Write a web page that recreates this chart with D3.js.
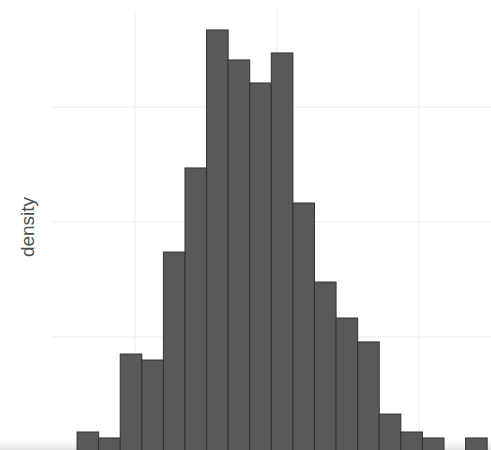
<!DOCTYPE html>
<html>
<head>
<meta charset="utf-8">
<script src="https://cdn.jsdelivr.net/npm/d3@7"></script>
<style>
html,body{margin:0;padding:0;background:#fff;}
svg{display:block;}
</style>
</head>
<body>
<svg id="chart" width="491" height="450"></svg>
<script>
// Histogram data (density per bin)
const binStart = -1.408;
const binWidth = 0.152;
const densities = [0.0174, 0.0122, 0.0852, 0.0800, 0.1739, 0.2470, 0.3670, 0.3409, 0.3209, 0.3470,
                   0.2165, 0.1478, 0.1165, 0.0957, 0.0330, 0.0174, 0.0122, 0, 0.0122];
const xGrid = [-1, 0, 1];
const yGrid = [0.1, 0.2, 0.3];
const yLabel = "density";

const svg = d3.select("#chart");
const W = 491, H = 450;
const panel = {left: 52, top: 10, right: 491, bottom: 452};

const x = d3.scaleLinear().domain([-1, 1]).range([135, 419]);
const y = d3.scaleLinear().domain([0, 0.3]).range([panel.bottom, 107]);

const bins = densities.map((d, i) => ({x0: binStart + i * binWidth, x1: binStart + (i + 1) * binWidth, d}));

// bottom subtle shading
const defs = svg.append("defs");
const grad = defs.append("linearGradient").attr("id", "bot").attr("x1", 0).attr("y1", 0).attr("x2", 0).attr("y2", 1);
grad.append("stop").attr("offset", "0%").attr("stop-color", "#ffffff").attr("stop-opacity", 0);
grad.append("stop").attr("offset", "100%").attr("stop-color", "#e4e4e4").attr("stop-opacity", 1);

// gridlines
svg.append("g").selectAll("line").data(yGrid).join("line")
  .attr("x1", panel.left).attr("x2", panel.right)
  .attr("y1", d => y(d)).attr("y2", d => y(d))
  .attr("stroke", "#ededed").attr("stroke-width", 1.1);
svg.append("g").selectAll("line").data(xGrid).join("line")
  .attr("x1", d => x(d)).attr("x2", d => x(d))
  .attr("y1", panel.top).attr("y2", H)
  .attr("stroke", "#ededed").attr("stroke-width", 1.1);

svg.append("rect").attr("x", 0).attr("y", 436).attr("width", W).attr("height", 14).attr("fill", "url(#bot)");

// bars
svg.append("g").selectAll("rect").data(bins.filter(b => b.d > 0)).join("rect")
  .attr("x", b => x(b.x0))
  .attr("width", b => x(b.x1) - x(b.x0))
  .attr("y", b => y(b.d))
  .attr("height", b => y(0) - y(b.d))
  .attr("fill", "#595959")
  .attr("stroke", "#333333")
  .attr("stroke-width", 1);

// y label
svg.append("text")
  .attr("transform", "translate(34,227) rotate(-90)")
  .attr("text-anchor", "middle")
  .attr("font-family", "Liberation Sans, Arial, sans-serif")
  .attr("font-size", 19)
  .attr("fill", "#4d4d4d")
  .text(yLabel);
</script>
</body>
</html>
